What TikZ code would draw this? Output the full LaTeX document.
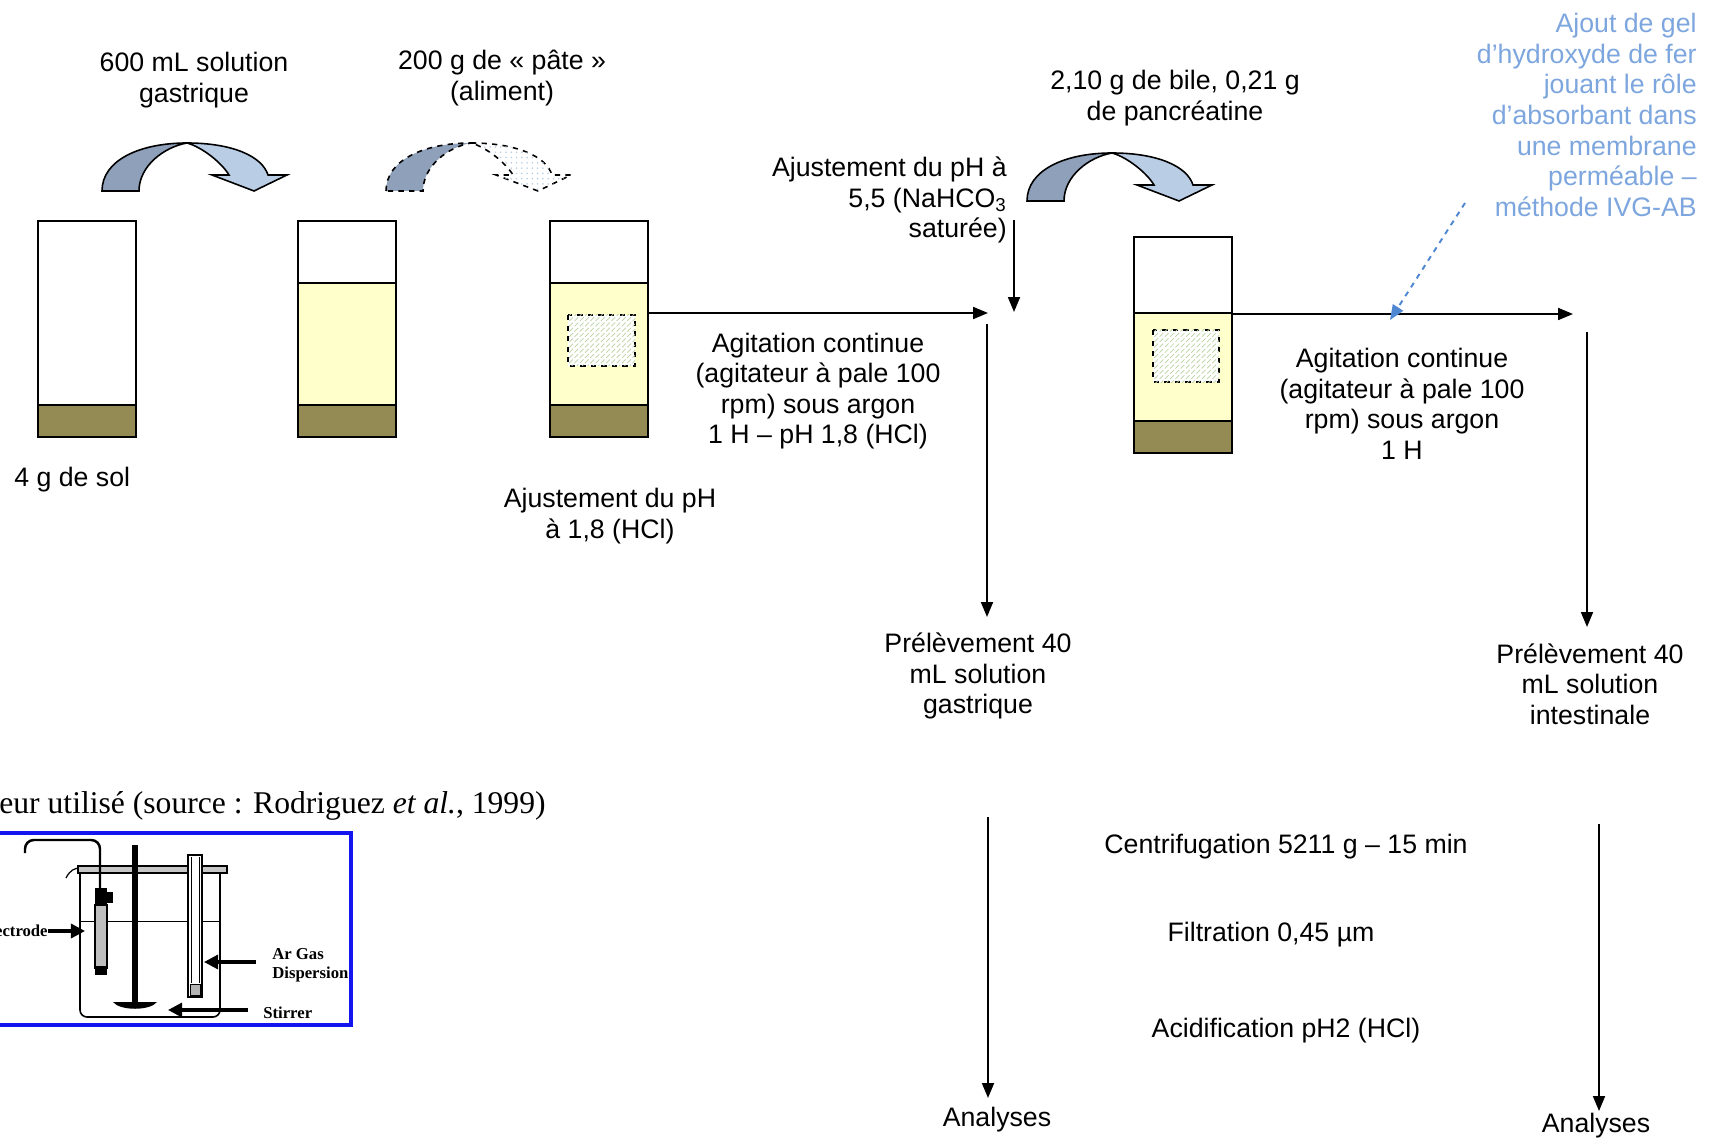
\documentclass[tikz,border=0pt]{standalone}
\usepackage{fontspec}
\setmainfont{Liberation Sans}
\newfontfamily\serifrm{Liberation Serif}
\usetikzlibrary{arrows.meta,patterns}

\definecolor{archdark}{RGB}{142,160,186}
\definecolor{archlight}{RGB}{185,205,229}
\definecolor{soil}{RGB}{148,138,84}
\definecolor{liquid}{RGB}{255,255,204}
\definecolor{hatch}{RGB}{185,210,160}
\definecolor{notecol}{RGB}{125,166,222}
\definecolor{notearrow}{RGB}{80,135,210}
\definecolor{framecol}{RGB}{20,20,240}

\begin{document}
\begin{tikzpicture}[x=0.02cm,y=-0.02cm,
  lbl/.style={font=\fontsize{15.2}{17.4}\selectfont, align=center, inner sep=0pt},
  conn/.style={line width=1.1pt, -{Triangle[length=8.5pt,width=6.8pt]}},
  layer/.style={draw=black, line width=0.9pt},
  beaker/.style={draw=black, line width=0.9pt, minimum width=1.96cm, minimum height=4.32cm, inner sep=0pt},
  sample/.style={draw=black, dashed, line width=0.9pt, fill=white, postaction={pattern=north east lines, pattern color=hatch}},
  arch dark/.style={fill=archdark, draw=black, line width=0.9pt},
  arch light/.style={fill=archlight, draw=black, line width=0.9pt},
  pics/bent arrow/.style={code={
    \path[arch dark] (0,0) .. controls (0,-31) and (38,-48) .. (85,-48)
        .. controls (62,-44) and (37,-25) .. (37,0) -- cycle;
    \path[arch light] (85,-48) .. controls (130,-48) and (160,-35) .. (166,-16)
        -- (185,-16) -- (152,0) -- (110,-16) -- (127,-16)
        .. controls (120,-28) and (100,-44) .. (85,-48) -- cycle;
  }},
  tag/.style={font=\serifrm\bfseries\fontsize{9.5}{11}\selectfont, inner sep=0pt, align=left},
  thickarrow/.style={line width=1.8pt, -{Triangle[length=8pt,width=8pt]}}
]
\useasboundingbox (0,0) rectangle (1710,1138);
\clip (0,0) rectangle (1710,1138);

% ---------- beakers ----------
\path[layer, fill=soil] (38,405) rectangle (136,437);
\node[beaker] (b1) at (87,329) {};

\path[layer, fill=liquid] (298,283) rectangle (396,405);
\path[layer, fill=soil] (298,405) rectangle (396,437);
\node[beaker] (b2) at (347,329) {};

\path[layer, fill=liquid] (550,283) rectangle (648,405);
\path[layer, fill=soil] (550,405) rectangle (648,437);
\path[sample] (568,315) rectangle (635,366);
\node[beaker] (b3) at (599,329) {};

\path[layer, fill=liquid] (1134,313) rectangle (1232,421);
\path[layer, fill=soil] (1134,421) rectangle (1232,453);
\path[sample] (1153,330) rectangle (1219,382);
\node[beaker] (b4) at (1183,345) {};

% ---------- bent arrows (additions) ----------
\pic at (102,191) {bent arrow};
\begin{scope}[arch dark/.append style={dashed},
  arch light/.style={draw=black, dashed, line width=0.9pt, fill=white,
    postaction={pattern=dots, pattern color=archlight}}]
  \pic at (386,191) {bent arrow};
\end{scope}
\pic at (1027,201) {bent arrow};

% ---------- labels ----------
\node[lbl] (t600) at (194,80) {600 mL solution\\gastrique};
\node[lbl] (t200) at (502,78) {200 g de « pâte »\\(aliment)};
\node[lbl, anchor=west] (tsol) at (14,480) {4 g de sol};
\node[lbl] (tph18) at (610,516) {Ajustement du pH\\à 1,8 (HCl)};
\node[lbl] (tagit1) at (818,391) {Agitation continue\\(agitateur à pale 100\\rpm) sous argon\\1 H – pH 1,8 (HCl)};
\node[lbl, align=right, anchor=east] (tph55) at (1007,200) {Ajustement du pH à\\5,5 (NaHCO\textsubscript{3}\\saturée)};
\node[lbl] (tbile) at (1175,98) {2,10 g de bile, 0,21 g\\de pancréatine};
\node[lbl] (tagit2) at (1402,404) {Agitation continue\\(agitateur à pale 100\\rpm) sous argon\\1 H};
\node[lbl, text=notecol, align=right, anchor=east] (tnote) at (1697,115) {Ajout de gel\\d’hydroxyde de fer\\jouant le rôle\\d’absorbant dans\\une membrane\\perméable –\\méthode IVG-AB};
\node[lbl] (prel1) at (978,676) {Prélèvement 40\\mL solution\\gastrique};
\node[lbl] (prel2) at (1590,684) {Prélèvement 40\\mL solution\\intestinale};
\node[lbl] (ana1) at (997,1120) {Analyses};
\node[lbl] (ana2) at (1596,1126) {Analyses};
\node[lbl] (centri) at (1286,847) {Centrifugation 5211 g – 15 min};
\node[lbl] (filt) at (1271,935) {Filtration 0,45 µm};
\node[lbl] (acid) at (1286,1031) {Acidification pH2 (HCl)};

% ---------- connectors ----------
\coordinate (j1) at (988,313);
\draw[conn] (b3.east |- j1) -- (j1);
\coordinate (ph55a) at (1014,220);
\coordinate (ph55b) at (1014,312);
\draw[conn] (ph55a) -- (ph55b);
\coordinate (s1) at (987,324);
\coordinate (s1end) at (987,617);
\draw[conn] (s1) -- (s1end);
\coordinate (a1) at (988,817);
\coordinate (a1end) at (988,1098);
\draw[conn] (a1) -- (a1end);

\coordinate (j2) at (1573,314);
\draw[conn] (b4.east |- j2) -- (j2);
\coordinate (n1) at (1465,203);
\coordinate (n1end) at (1390,320);
\draw[conn, notearrow, dashed] (n1) -- (n1end);
\coordinate (s2) at (1587,332);
\coordinate (s2end) at (1587,627);
\draw[conn] (s2) -- (s2end);
\coordinate (a2) at (1599,824);
\coordinate (a2end) at (1599,1111);
\draw[conn] (a2) -- (a2end);

% ---------- reactor sketch ----------
\node[font=\serifrm\fontsize{18}{21}\selectfont, anchor=east, inner sep=0pt] (caption) at (546,806) {eur utilisé (source : Rodriguez \textit{et al.}, 1999)};
\draw[framecol, line width=1.8pt] (-10,833) rectangle (351,1025);

% vessel
\draw[line width=0.9pt, rounded corners=4] (80,874) -- (80,1017) -- (220,1017) -- (220,872);
\draw[line width=0.7pt] (66,878) .. controls (70,870) and (75,868) .. (80,868);
\draw[line width=0.6pt, fill=gray!45] (78,866) rectangle (227,873);
\draw[line width=0.5pt] (80,921) -- (220,921);
% stirrer
\fill (132,845) rectangle (138,1003);
\fill (113,1002) .. controls (120,1011) and (150,1011) .. (157,1002) -- cycle;
% gas dispersion tube
\draw[line width=0.9pt, fill=white] (188,855) rectangle (202,997);
\draw[line width=0.5pt] (191,857) -- (191,983) (199,857) -- (199,983);
\draw[line width=0.5pt, fill=gray!60] (190,984) rectangle (200,995);
% electrode
\draw[line width=1.4pt, rounded corners=5] (25,853) |- (100,840) -- (100,888);
\fill (95,888) rectangle (107,905);
\fill (107,892) rectangle (113,903);
\draw[line width=0.8pt, fill=gray!50] (95,905) rectangle (107,968);
\fill (95,966) rectangle (107,975);

% labels of the sketch
\node[tag, anchor=east] (lel) at (48,931) {ectrode};
\coordinate (elwall) at (85,931);
\draw[thickarrow] (lel.east) -- (elwall);
\node[tag, anchor=west] (lar) at (272,965) {Ar Gas\\Dispersion};
\coordinate (arstart) at (256,962);
\coordinate (artube) at (204,962);
\draw[thickarrow] (arstart) -- (artube);
\node[tag, anchor=west] (lst) at (263,1013) {Stirrer};
\coordinate (ststart) at (248,1010);
\coordinate (stpaddle) at (168,1010);
\draw[thickarrow] (ststart) -- (stpaddle);
\end{tikzpicture}
\end{document}
